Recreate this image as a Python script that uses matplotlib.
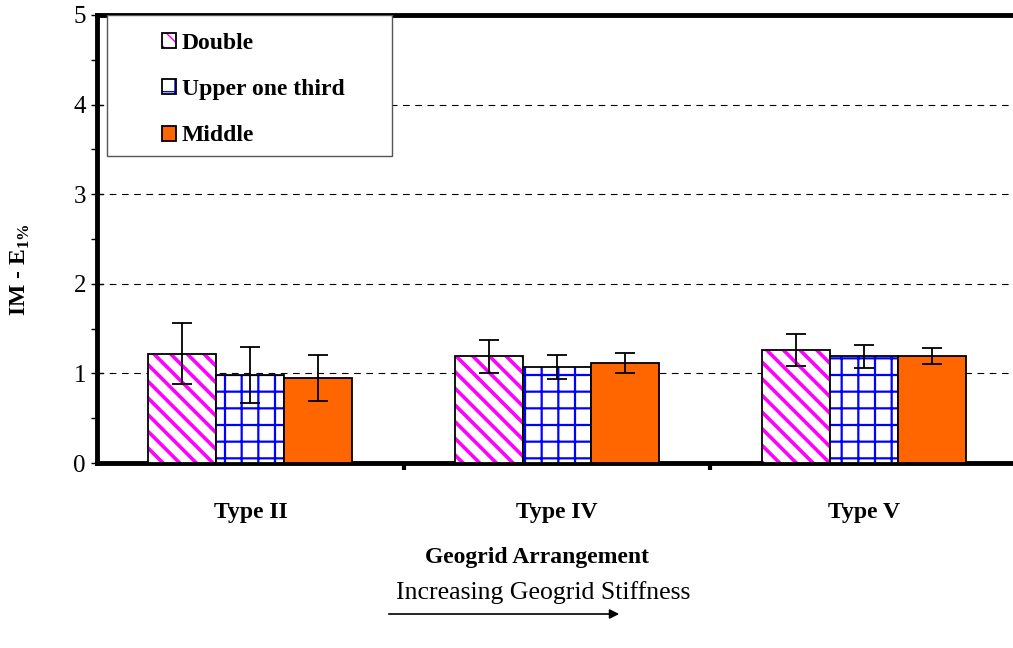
import matplotlib.pyplot as plt
from matplotlib.patches import Rectangle, FancyArrowPatch
from matplotlib.colors import to_rgba
import numpy as np

plt.rcParams['font.family'] = ['Liberation Serif', 'DejaVu Serif']
plt.rcParams['mathtext.fontset'] = 'custom'
plt.rcParams['mathtext.rm'] = 'Liberation Serif:bold'
plt.rcParams['mathtext.bf'] = 'Liberation Serif:bold'

categories = ['Type II', 'Type IV', 'Type V']
series = ['Double', 'Upper one third', 'Middle']
values = {
    'Double': [1.22, 1.19, 1.26],
    'Upper one third': [0.98, 1.07, 1.19],
    'Middle': [0.95, 1.12, 1.19],
}
errors = {
    'Double': [0.34, 0.185, 0.175],
    'Upper one third': [0.315, 0.13, 0.13],
    'Middle': [0.26, 0.11, 0.09],
}

styles = {
    'Double': dict(facecolor='white', hatch='\\\\', hcolor='#ff00ff', hlw=2.6),
    'Upper one third': dict(facecolor='white', hatch='+', hcolor='#0000ff', hlw=1.6),
    'Middle': dict(facecolor='#ff6600', hatch=None, hcolor='black', hlw=1.0),
}

fig = plt.figure(figsize=(10.13, 6.48), dpi=100)
ax = fig.add_axes([97 / 1013, 1 - 463 / 648, 920 / 1013, 448 / 648])

x = np.arange(len(categories))
w = 0.2215
handles = []
for i, s in enumerate(series):
    st = styles[s]
    bars = ax.bar(x + (i - 1) * w, values[s], w, facecolor=st['facecolor'],
                  edgecolor='black', linewidth=1.3, hatch=st['hatch'], label=s, zorder=3)
    for b in bars:
        if st['hatch']:
            b._hatch_color = to_rgba(st['hcolor'])
            if hasattr(b, 'set_hatch_linewidth'):
                b.set_hatch_linewidth(st['hlw'])
    handles.append(bars)
    ax.errorbar(x + (i - 1) * w, values[s], yerr=errors[s], fmt='none',
                ecolor='black', elinewidth=1.3, capsize=7.5, capthick=1.3, zorder=4)

ax.set_xlim(-0.5, 2.5)
ax.set_ylim(0, 5)
ax.set_yticks([0, 1, 2, 3, 4, 5])
ax.set_yticks(np.arange(0.5, 5, 1), minor=True)
ax.set_xticks(x)
ax.set_xticklabels(categories, fontsize=17, fontweight='bold')
ax.set_xticks([0.5, 1.5], minor=True)
ax.tick_params(axis='x', which='major', length=0, pad=28)
ax.tick_params(axis='x', which='minor', length=5, width=3, direction='out')
ax.tick_params(axis='y', which='major', length=8, width=1, direction='inout', labelsize=18, pad=4)
ax.tick_params(axis='y', which='minor', length=4, width=1, direction='out')

for y in [1, 2, 3, 4]:
    ax.axhline(y, color='black', linestyle=(0, (6, 5)), linewidth=0.8, zorder=1)

for side in ['left', 'top', 'bottom']:
    ax.spines[side].set_linewidth(3.5)
ax.spines['right'].set_visible(False)

# legend box
box = Rectangle((10 / 920, (463 - 156) / 448), 285 / 920, 1 - (463 - 156) / 448,
                transform=ax.transAxes, facecolor='white', edgecolor='#555555',
                linewidth=1, zorder=5)
ax.add_patch(box)
leg = ax.legend(handles, series, loc='upper left', bbox_to_anchor=(48 / 920, 0.997),
                frameon=False, prop={'size': 17, 'weight': 'bold'},
                handlelength=0.6, handleheight=0.6, handletextpad=0.25,
                labelspacing=1.07, borderaxespad=0.3)
leg.set_zorder(6)

fig.text(20 / 1013, 1 - 270 / 648, r'IM - E$_{1\%}$', rotation=90, fontsize=17,
         fontweight='bold', ha='center', va='center')
fig.text(537 / 1013, 1 - 558 / 648, 'Geogrid Arrangement', fontsize=17,
         fontweight='bold', ha='center', va='center')
fig.text(543 / 1013, 1 - 593 / 648, 'Increasing Geogrid Stiffness', fontsize=18.5,
         ha='center', va='center')
fig.add_artist(FancyArrowPatch(
    (386 / 1013, 1 - 614 / 648), (622 / 1013, 1 - 614 / 648),
    transform=fig.transFigure, arrowstyle='-|>', mutation_scale=14,
    color='black', linewidth=1.2))

fig.savefig('out.png', dpi=100)
